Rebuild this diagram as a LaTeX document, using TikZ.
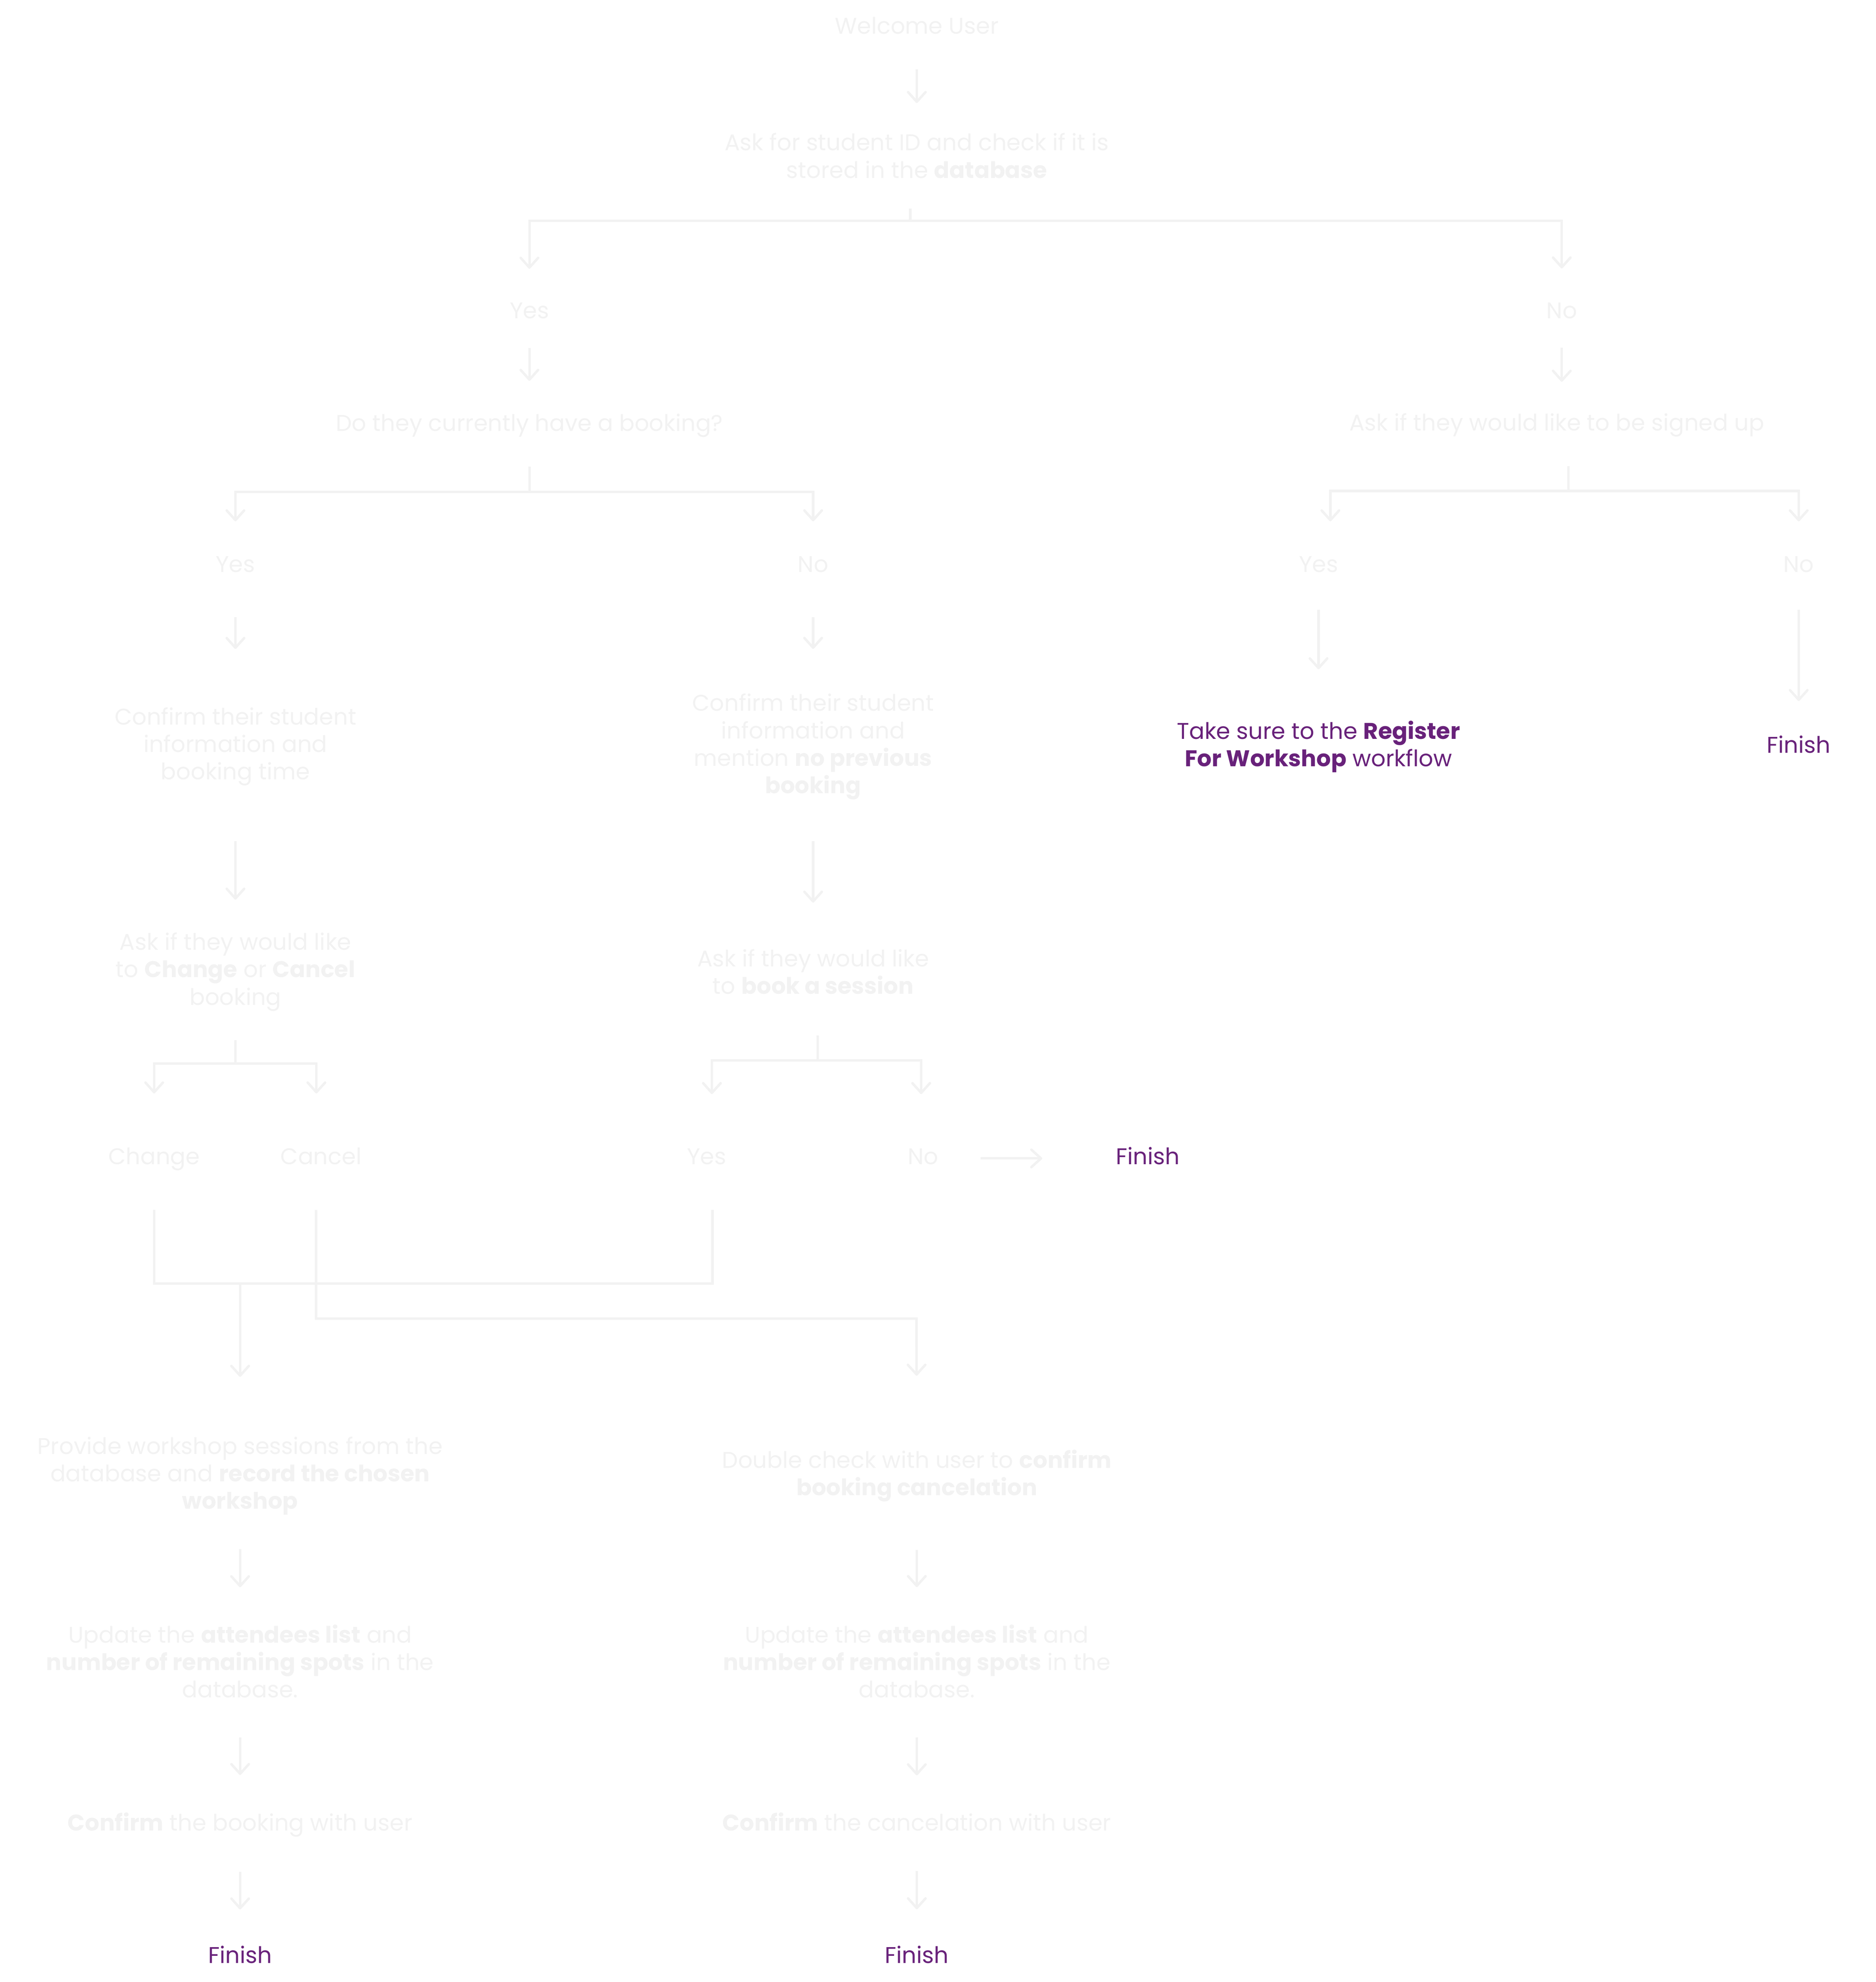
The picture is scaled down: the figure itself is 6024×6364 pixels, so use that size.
\documentclass[tikz,border=0pt]{standalone}
\usepackage{fontspec}
\setmainfont{Poppins}
\usetikzlibrary{arrows.meta}
\definecolor{greytxt}{HTML}{F2F2F2}
\definecolor{wfpurple}{HTML}{68217A}

\begin{document}
\begin{tikzpicture}[x=0.2pt,y=-0.2pt,every node/.style={text=greytxt,align=center,inner sep=0pt,font=\fontsize{14.6pt}{17.6pt}\selectfont}]

% Define styles
\tikzstyle{word} = [text height=11pt, text depth=3.2pt]
\tikzstyle{done} = [word, text=wfpurple]
\tikzstyle{wire} = [draw=greytxt, line width=1.6pt]
\tikzstyle{flow} = [wire, -{Straight Barb[length=6.2pt,width=11.2pt,round]}]

\useasboundingbox (0,0) rectangle (6024,6364);

\node [word] (welcome) at (2944,89.5) {Welcome User};
\node [below of=welcome, node distance=82.1pt] (askid) {Ask for student ID and check if it is\\stored in the \textbf{database}};

\node [word] (yesA) at (1700,1003.5) {Yes};
\node [word, right of=yesA, node distance=663pt] (noA) {No};
\node [below of=yesA, node distance=72.6pt] (booking) {Do they currently have a booking?};
\node [below of=noA, node distance=72.2pt, xshift=-3.2pt] (signup) {Ask if they would like to be signed up};

\node [word] (yesB) at (756,1817.5) {Yes};
\node [word, right of=yesB, node distance=371pt] (noB) {No};
\node [word] (yesC) at (4234,1817.5) {Yes};
\node [word, right of=yesC, node distance=308.4pt] (noC) {No};

\node [below of=yesB, node distance=116pt] (confB) {Confirm their student\\information and\\booking time};
\node [below of=noB, node distance=116pt] (confNo) {Confirm their student\\information and\\mention \textbf{no previous}\\\textbf{booking}};
\node [below of=yesC, node distance=115.9pt, text=wfpurple] (regwf) {Take sure to the \textbf{Register}\\\textbf{For Workshop} workflow};
\node [done, below of=noC, node distance=116pt] (finC) {Finish};

\node [below of=confB, node distance=144.6pt] (askChange) {Ask if they would like\\to \textbf{Change} or \textbf{Cancel}\\booking};
\node [below of=confNo, node distance=144.6pt] (askBook) {Ask if they would like\\to \textbf{book a session}};

\node [word] (change) at (495,3719.5) {Change};
\node [word, right of=change, node distance=107.2pt] (cancel) {Cancel};
\node [word] (yesD) at (2269,3719.5) {Yes};
\node [word, right of=yesD, node distance=139pt] (noD) {No};
\node [done, right of=noD, node distance=144.4pt] (finD) {Finish};

\node (provide) at (771,4738.5) {Provide workshop sessions from the\\database and \textbf{record the chosen}\\\textbf{workshop}};
\node [right of=provide, node distance=434.6pt] (dblcheck) {Double check with user to \textbf{confirm}\\\textbf{booking cancelation}};

\node [below of=provide, node distance=119.1pt] (updA) {Update the \textbf{attendees list} and\\\textbf{number of remaining spots} in the\\database.};
\node [below of=dblcheck, node distance=119pt] (updB) {Update the \textbf{attendees list} and\\\textbf{number of remaining spots} in the\\database.};

\node [below of=updA, node distance=104.9pt] (confirmA) {\textbf{Confirm} the booking with user};
\node [below of=updB, node distance=103.3pt] (confirmB) {\textbf{Confirm} the cancelation with user};

\node [done, below of=confirmA, node distance=85.2pt] (finA) {Finish};
\node [done, below of=confirmB, node distance=86.8pt] (finB) {Finish};

\coordinate (mergeA) at (771,4121);
\coordinate (mergeB) at (2943,4234);

\draw[flow, shorten <=19.4pt, shorten >=19.2pt] (welcome) -- (askid);

\draw[wire, shorten <=19.2pt] ([xshift=-4.2pt]askid.south) -- ++(0,136) coordinate (forkA);
\draw[flow, shorten >=20.8pt] (forkA) -| (yesA);
\draw[flow, shorten >=21pt] (forkA) -| (noA);

\draw[flow, shorten <=15.4pt, shorten >=21pt] (yesA) -- (booking);
\draw[flow, shorten <=15.2pt, shorten >=20pt] (noA.south) -- (noA.south |- signup.north);

\draw[wire, shorten <=18.6pt] (booking.south) -- ++(0,174) coordinate (forkB);
\draw[flow, shorten >=21.4pt] (forkB) -| (yesB);
\draw[flow, shorten >=21.4pt] (forkB) -| (noB);

\draw[wire, shorten <=18.6pt] ([xshift=7.4pt]signup.south) -- ++(0,173) coordinate (forkC);
\draw[flow, shorten >=21.4pt] (forkC) -| ([xshift=7.6pt]yesC.north);
\draw[flow, shorten >=21.4pt] (forkC) -| (noC);

\draw[flow, shorten <=25.6pt, shorten >=37.4pt] (yesB) -- (confB);
\draw[flow, shorten <=25.6pt, shorten >=28.6pt] (noB) -- (confNo);
\draw[flow, shorten <=20.8pt, shorten >=32.8pt] (yesC.south) -- (yesC.south |- regwf.north);
\draw[flow, shorten <=20.8pt, shorten >=22pt] (noC) -- (finC);

\draw[flow, shorten <=35.2pt, shorten >=21pt] (confB) -- (askChange);
\draw[flow, shorten <=26.4pt, shorten >=29.8pt] (confNo) -- (askBook);

\draw[wire, shorten <=18.4pt] (askChange.south) -- ++(0,168) coordinate (forkD);
\draw[flow, shorten >=34.4pt] (forkD) -| (change);
\draw[flow, shorten >=34.4pt] (forkD) -| ([xshift=-3pt]cancel.north);

\draw[wire, shorten <=26.2pt] ([xshift=3pt]askBook.south) -- ++(0,211) coordinate (forkE);
\draw[flow, shorten >=34pt] (forkE) -| ([xshift=3.4pt]yesD.north);
\draw[flow, shorten >=34pt] (forkE) -| ([xshift=-1.2pt]noD.north);

\draw[flow, shorten <=27pt, shorten >=47.2pt] (noD) -- (finD);

\draw[wire] ([yshift=-25.8pt]change.south) |- (mergeA) -| ([xshift=3.8pt,yshift=-25.8pt]yesD.south);
\draw[flow, shorten >=38.2pt] (mergeA) -- (provide);
\draw[flow, shorten >=47.4pt] ([xshift=-3.2pt,yshift=-25.8pt]cancel.south) |- (mergeB) -- (dblcheck);

\draw[flow, shorten <=21.8pt, shorten >=23.8pt] (provide) -- (updA);
\draw[flow, shorten <=30.8pt, shorten >=23.8pt] (dblcheck) -- (updB);

\draw[flow, shorten <=25.2pt, shorten >=23.8pt] (updA) -- (confirmA);
\draw[flow, shorten <=25.2pt, shorten >=23.8pt] (updB) -- (confirmB);

\draw[flow, shorten <=22.2pt, shorten >=23.4pt] (confirmA) -- (finA);
\draw[flow, shorten <=25.4pt, shorten >=23.4pt] (confirmB) -- (finB);

\end{tikzpicture}
\end{document}
